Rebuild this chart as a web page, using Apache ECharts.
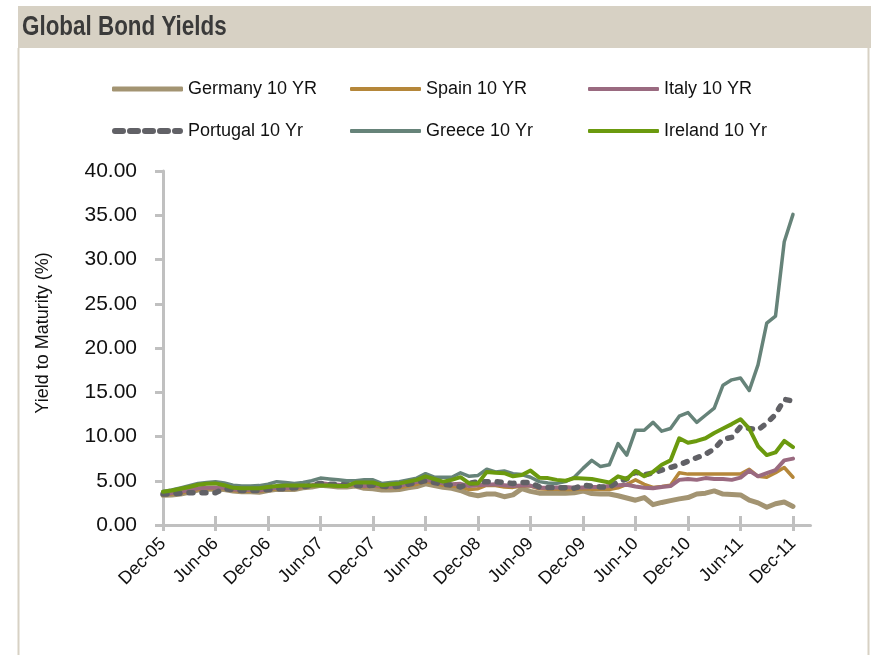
<!DOCTYPE html>
<html>
<head>
<meta charset="utf-8">
<script src="https://cdn.jsdelivr.net/npm/echarts@6/dist/echarts.min.js"></script>
<style>
html,body{margin:0;padding:0;background:#fff;}
#chart{width:871px;height:655px;}
</style>
</head>
<body>
<div id="chart"></div>
<script>
var months = [
 'Dec-05',
 'Jan-06','Feb-06','Mar-06','Apr-06','May-06','Jun-06','Jul-06','Aug-06','Sep-06','Oct-06','Nov-06','Dec-06',
 'Jan-07','Feb-07','Mar-07','Apr-07','May-07','Jun-07','Jul-07','Aug-07','Sep-07','Oct-07','Nov-07','Dec-07',
 'Jan-08','Feb-08','Mar-08','Apr-08','May-08','Jun-08','Jul-08','Aug-08','Sep-08','Oct-08','Nov-08','Dec-08',
 'Jan-09','Feb-09','Mar-09','Apr-09','May-09','Jun-09','Jul-09','Aug-09','Sep-09','Oct-09','Nov-09','Dec-09',
 'Jan-10','Feb-10','Mar-10','Apr-10','May-10','Jun-10','Jul-10','Aug-10','Sep-10','Oct-10','Nov-10','Dec-10',
 'Jan-11','Feb-11','Mar-11','Apr-11','May-11','Jun-11','Jul-11','Aug-11','Sep-11','Oct-11','Nov-11','Dec-11',
 'Jan-12','Feb-12'
];
var seriesNames = ['Germany 10 YR','Spain 10 YR','Italy 10 YR','Portugal 10 Yr','Greece 10 Yr','Ireland 10 Yr'];

var germany = [3.35,3.4,3.5,3.7,3.95,4.05,4.05,4.0,3.85,3.75,3.75,3.7,3.9,4.05,4.0,4.0,4.2,4.3,4.5,4.4,4.3,4.3,4.4,4.15,4.1,3.95,3.95,4.0,4.2,4.35,4.65,4.45,4.25,4.15,3.9,3.5,3.3,3.5,3.5,3.2,3.4,4.1,3.8,3.6,3.6,3.6,3.6,3.65,3.85,3.55,3.5,3.5,3.3,3.05,2.8,3.1,2.3,2.55,2.75,2.95,3.1,3.5,3.6,3.85,3.5,3.45,3.4,2.8,2.5,2.0,2.4,2.6,2.1];
var spain = [3.4,3.5,3.6,3.8,4.0,4.1,4.1,4.1,3.9,3.8,3.85,3.8,3.95,4.1,4.1,4.1,4.3,4.4,4.65,4.5,4.4,4.45,4.5,4.3,4.4,4.25,4.2,4.2,4.4,4.6,4.9,4.7,4.5,4.4,4.3,4.0,4.1,4.5,4.45,4.3,4.25,4.4,4.4,4.1,4.05,4.05,4.0,4.0,4.1,4.05,4.0,4.0,4.2,4.6,5.1,4.6,4.25,4.35,4.5,5.9,5.75,5.75,5.75,5.75,5.75,5.75,5.75,6.3,5.5,5.4,5.9,6.5,5.4];
var italy = [3.5,3.6,3.75,3.95,4.15,4.2,4.25,4.2,4.0,3.95,3.95,3.9,4.1,4.2,4.15,4.2,4.4,4.5,4.75,4.6,4.55,4.5,4.6,4.4,4.5,4.4,4.3,4.4,4.65,4.85,5.1,4.95,4.7,4.6,4.65,4.4,4.5,4.55,4.6,4.5,4.4,4.45,4.45,4.2,4.2,4.25,4.3,4.2,4.25,4.3,4.3,4.4,4.5,4.55,4.35,4.2,4.15,4.3,4.4,5.1,5.2,5.1,5.3,5.2,5.2,5.1,5.35,6.15,5.5,5.85,6.2,7.3,7.5];
var portugal = [3.5,3.5,3.6,3.65,3.65,3.65,3.65,4.1,4.0,3.9,3.9,3.9,4.0,4.1,4.1,4.2,4.3,4.5,4.7,4.6,4.6,4.6,4.5,4.4,4.5,4.4,4.3,4.4,4.6,4.8,5.0,4.8,4.6,4.5,4.3,4.7,4.9,4.9,4.9,4.8,4.7,4.8,4.8,4.3,4.25,4.2,4.2,4.15,4.5,4.4,4.3,4.25,4.9,5.2,6.0,5.65,5.9,6.2,6.5,6.8,7.2,7.6,8.0,8.6,9.7,9.9,11.1,10.9,10.75,11.5,12.5,14.2,14.0];
var greece = [3.8,3.95,4.2,4.45,4.7,4.8,4.9,4.75,4.5,4.4,4.4,4.45,4.6,4.9,4.8,4.7,4.8,5.0,5.3,5.2,5.1,5.0,5.0,5.1,5.1,4.7,4.8,4.9,5.1,5.3,5.8,5.4,5.4,5.4,5.9,5.5,5.6,6.3,6.0,6.1,5.8,5.7,5.4,4.9,4.75,4.7,4.9,5.4,6.4,7.3,6.6,6.8,9.2,7.9,10.7,10.7,11.6,10.6,10.9,12.3,12.7,11.6,12.4,13.2,15.8,16.4,16.6,15.2,18.1,22.8,23.6,32.0,35.1];
var ireland = [3.75,3.9,4.1,4.3,4.55,4.65,4.7,4.5,4.2,4.15,4.15,4.15,4.3,4.4,4.45,4.45,4.45,4.45,4.45,4.45,4.4,4.4,4.8,4.8,4.8,4.5,4.6,4.7,4.9,5.1,5.5,5.2,4.9,5.1,5.4,4.7,4.7,6.0,5.9,5.85,5.5,5.65,6.15,5.35,5.3,5.1,5.0,5.3,5.25,5.2,5.0,4.8,5.5,5.2,6.1,5.5,6.0,6.8,7.3,9.8,9.3,9.5,9.8,10.4,10.9,11.4,11.95,10.9,8.9,7.9,8.2,9.5,8.8];
var yTicks = [0,5,10,15,20,25,30,35,40];

var FONT = "'Liberation Sans', Arial, sans-serif";
var colors = ['#a39472','#b5873a','#9a6a80','#616166','#668379','#6b9a0e'];
var widths = [5,3.5,4,5.5,3.5,4];
var values = [germany,spain,italy,portugal,greece,ireland];
var legendPos = [[107,75],[345,75],[583,75],[107,117],[345,117],[583,117]];
var dashIcon = 'path://M3,0h8a3,3 0 0 1 0,6h-8a3,3 0 0 1 0,-6z M18,0h8a3,3 0 0 1 0,6h-8a3,3 0 0 1 0,-6z M33,0h8a3,3 0 0 1 0,6h-8a3,3 0 0 1 0,-6z M48,0h8a3,3 0 0 1 0,6h-8a3,3 0 0 1 0,-6z M63,0h5a3,3 0 0 1 0,6h-5a3,3 0 0 1 0,-6z';

var series = seriesNames.map(function(n,i){
  var ls = {color:colors[i], width:widths[i], cap:'round', join:'round'};
  if (i === 3) { ls.type = [4,9]; }
  return {
    name:n, type:'line', data:values[i], xAxisIndex:0, yAxisIndex:0,
    symbol:'none', showSymbol:false, lineStyle:ls, itemStyle:{color:colors[i]},
    emphasis:{disabled:true}, animation:false, z:2+i
  };
});

var legends = seriesNames.map(function(n,i){
  return {
    data:[n], left:legendPos[i][0], top:legendPos[i][1],
    icon: i === 3 ? dashIcon : 'roundRect',
    itemWidth:71, itemHeight: i === 3 ? 6 : (i === 0 ? 5 : 4), itemGap:0,
    textStyle:{fontFamily:FONT, fontSize:18, color:'#111'},
    selectedMode:false
  };
});

var chart = echarts.init(document.getElementById('chart'), null, {renderer:'canvas'});
chart.setOption({
  backgroundColor:'#ffffff',
  animation:false,
  legend:legends,
  grid:{left:163, right:60.5, top:171, bottom:130, containLabel:false},
  xAxis:[{
    type:'category', data:months, boundaryGap:false,
    axisLine:{show:true, lineStyle:{color:'#c0c0c0', width:3}},
    axisTick:{show:true, interval:5, length:6, lineStyle:{color:'#c0c0c0', width:3}},
    axisLabel:{interval:5, rotate:45, fontFamily:FONT, fontSize:18, color:'#111', margin:16},
    splitLine:{show:false}
  },{
    type:'category', data:months, boundaryGap:false, position:'bottom', gridIndex:0,
    axisLine:{show:false},
    axisTick:{show:true, inside:true, interval:5, length:9, lineStyle:{color:'#c0c0c0', width:3}},
    axisLabel:{show:false}, splitLine:{show:false}
  }],
  yAxis:{
    type:'value', min:yTicks[0], max:yTicks[yTicks.length-1], interval:yTicks[1]-yTicks[0],
    axisLine:{show:true, lineStyle:{color:'#c0c0c0', width:3}},
    axisTick:{show:true, length:8, lineStyle:{color:'#c0c0c0', width:3}},
    axisLabel:{formatter:function(v){return v.toFixed(2);}, fontFamily:FONT, fontSize:21, color:'#111', margin:26},
    splitLine:{show:false}
  },
  graphic:[
    {type:'rect', left:18, top:6, shape:{width:853, height:42}, style:{fill:'#d7d1c4'}, silent:true, z:0},
    {type:'text', x:22, y:28, scaleX:0.83, style:{text:'Global Bond Yields', fontFamily:FONT, fontWeight:'bold', fontSize:27, fill:'#3a3a3a', verticalAlign:'middle'}, z:1},
    {type:'line', shape:{x1:18.5, y1:48, x2:18.5, y2:655}, style:{stroke:'#d7d1c4', lineWidth:2}, silent:true},
    {type:'line', shape:{x1:868.5, y1:48, x2:868.5, y2:655}, style:{stroke:'#d7d1c4', lineWidth:2}, silent:true},
    {type:'text', x:43, y:333, rotation:Math.PI/2, style:{text:'Yield to Maturity (%)', fontFamily:FONT, fontSize:18, fill:'#111', align:'center', verticalAlign:'middle'}}
  ],
  series:series
});
</script>
</body>
</html>
